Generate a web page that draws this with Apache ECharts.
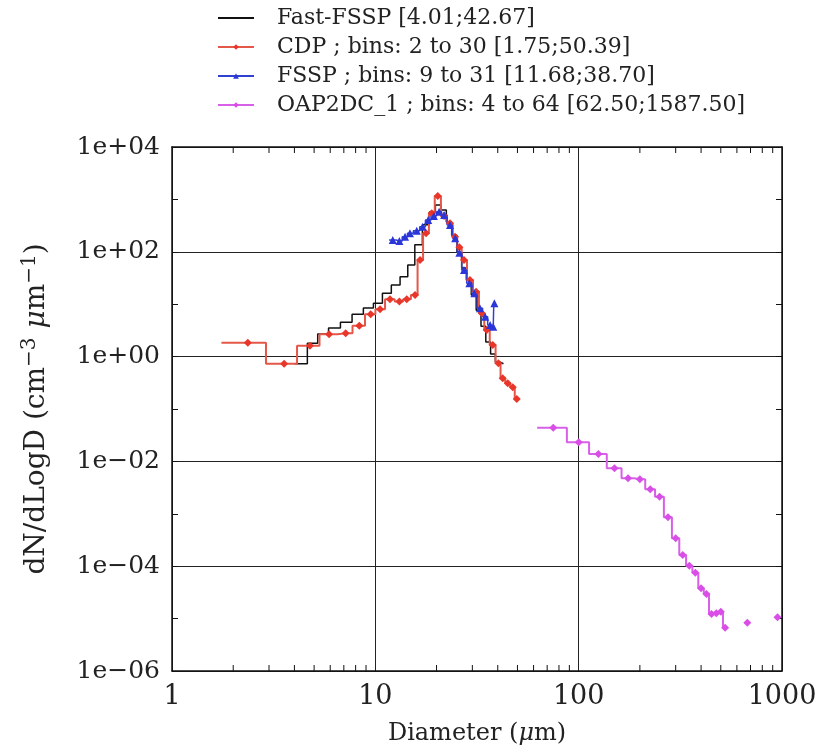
<!DOCTYPE html>
<html><head><meta charset="utf-8">
<script src="https://cdn.jsdelivr.net/npm/echarts@6/dist/echarts.min.js"></script>
<style>html,body{margin:0;padding:0;background:#fff}#c{width:823px;height:753px}</style>
</head><body><div id="c"></div>
<script>
// ---- data ----
const xTickValues = [1, 10, 100, 1000];
const xMinorTickValues = [2,3,4,5,6,7,8,9,20,30,40,50,60,70,80,90,200,300,400,500,600,700,800,900];
const yTickValues = [1e-6, 1e-4, 1e-2, 1, 1e2, 1e4];

const fastName = 'Fast-FSSP [4.01;42.67]';
const fastRange = [4.01, 42.67];
const fastD = [4.35,4.93,5.5,6.3,7.2,8.2,9.3,10.3,11.4,12.6,13.9,15.0,16.3,17.8,19.1,20.4,21.7,23.0,24.5,25.9,27.3,28.8,30.5,32.2,34.0,35.9,37.9,40.0,41.8];
const fastN = [0.73,1.79,2.7,3.5,4.5,6.4,8.5,10.4,16.1,23.3,33.5,56,136,327,572,780,627,370,208,98,49,29,15,7.7,3.8,1.9,1.12,0.79,0.73];

const cdpName = 'CDP ; bins: 2 to 30 [1.75;50.39]';
const cdpRange = [1.75, 50.39];
const cdpD = [2.36,3.56,4.77,5.92,7.15,8.34,9.49,10.55,11.81,13.13,14.27,15.68,16.6,17.76,18.94,20.28,21.78,23.3,24.66,25.9,27.3,29.2,31.3,33.4,35.3,37.8,40.3,42.3,44.8,47.4,49.6];
const cdpN = [1.84,0.73,1.61,2.66,2.79,3.89,6.42,8.0,12.4,11.2,12.4,15.0,69.8,225,543,1161,482,350,194,122,69.8,29.0,17.3,6.7,3.22,1.66,0.745,0.385,0.309,0.26,0.155];

const fsspName = 'FSSP ; bins: 9 to 31 [11.68;38.70]';
const fsspRange = [11.68, 38.70];
const fsspD = [12.18,13.13,14.0,14.8,15.98,17.1,18.2,19.4,20.6,21.8,23.3,24.7,25.9,27.3,29.0,30.7,32.7,34.7,36.7,38.0,38.5];
const fsspN = [168,161,194,225,253,301,405,482,582,503,324,181,96,45,25,16.1,8.35,5.77,4.0,3.72,10.4];

const oapName = 'OAP2DC_1 ; bins: 4 to 64 [62.50;1587.50]';
const oapBinWidth = 25;
const oapD = [75,100,125,150,175,200,225,250,275,300,325,350,375,400,425,450,475,500,525,675,950];
const oapN = [0.044,0.0232,0.01385,0.00738,0.00475,0.00455,0.00294,0.00212,0.000857,0.000341,0.000164,0.000102,0.0000752,0.0000379,0.0000294,0.0000122,0.0000126,0.0000135,0.0000067,0.00000835,0.0000106];

// ---- helpers ----
function geoEdges(D, range) {
  const lo = [], hi = [];
  for (let i = 0; i < D.length; i++) {
    lo.push(i === 0 ? range[0] : Math.sqrt(D[i - 1] * D[i]));
    hi.push(i === D.length - 1 ? range[1] : Math.sqrt(D[i] * D[i + 1]));
  }
  return { lo, hi };
}
function stepData(D, N, lo, hi, withMarkers) {
  const out = [];
  for (let i = 0; i < D.length; i++) {
    if (i > 0 && Math.abs(lo[i] - hi[i - 1]) > 1e-6) out.push({ value: [(hi[i - 1] + lo[i]) / 2, '-'], symbol: 'none' });
    out.push({ value: [lo[i], N[i]], symbol: 'none' });
    if (withMarkers) out.push({ value: [D[i], N[i]] });
    out.push({ value: [hi[i], N[i]], symbol: 'none' });
  }
  return out;
}
const fastE = geoEdges(fastD, fastRange);
const cdpE = geoEdges(cdpD, cdpRange);
const fsspE = geoEdges(fsspD, fsspRange);
const oapE = { lo: oapD.map(d => d - oapBinWidth / 2), hi: oapD.map(d => d + oapBinWidth / 2) };

const FONT = 'DejaVu Serif';
const TXT = '#222';
function expLabel(v) {
  const e = Math.round(Math.log10(v));
  return '1e' + (e < 0 ? '\u2212' : '+') + String(Math.abs(e)).padStart(2, '0');
}

const chart = echarts.init(document.getElementById('c'));
const frameLine = { show: true, lineStyle: { color: '#111', width: 1.5 } };
const minorLine = { color: '#111', width: 1 };
const TICK_LEN = 6;

chart.setOption({
  animation: false,
  backgroundColor: '#fff',
  legend: {
    orient: 'vertical', left: 212, top: 2, itemGap: 7,
    itemWidth: 36, itemHeight: 7,
    textStyle: { fontFamily: FONT, fontSize: 22, color: TXT, padding: [0, 0, 0, 18] },
    data: [{ name: fastName, itemStyle: { opacity: 0 } }, cdpName, fsspName, oapName]
  },
  grid: { left: 172, right: 41, top: 147, bottom: 82, containLabel: false },
  xAxis: [
    {
      type: 'log', logBase: 10, min: 1, max: 1000, position: 'bottom',
      name: 'Diameter ({mu|\u03bc}m)', nameLocation: 'middle', nameGap: 51,
      nameTextStyle: { fontFamily: FONT, fontSize: 24, color: TXT,
        rich: { mu: { fontFamily: FONT, fontSize: 24, fontStyle: 'italic', color: TXT } } },
      axisLine: frameLine,
      axisTick: { show: false },
      splitLine: { show: true, lineStyle: { color: '#222', width: 1 } },
      axisLabel: { fontFamily: FONT, fontSize: 27, color: TXT, margin: 12,
        formatter: v => String(Math.round(v)) }
    },
    {
      type: 'log', logBase: 10, min: 1, max: 1000, position: 'top',
      axisLine: frameLine, axisTick: { show: false },
      splitLine: { show: false }, axisLabel: { show: false }
    }
  ],
  yAxis: [
    {
      type: 'log', logBase: 100, min: 1e-6, max: 1e4, position: 'left',
      name: 'dN/dLogD (cm{sup|\u22123} {mu|\u03bc}m{sup|\u22121})', nameLocation: 'middle', nameGap: 118, nameRotate: 90,
      nameTextStyle: { fontFamily: FONT, fontSize: 28, color: TXT, verticalAlign: 'bottom',
        rich: {
          sup: { fontFamily: FONT, fontSize: 20, color: TXT, verticalAlign: 'top', lineHeight: 34 },
          mu: { fontFamily: FONT, fontSize: 28, fontStyle: 'italic', color: TXT }
        } },
      axisLine: frameLine,
      axisTick: { show: false },
      splitLine: { show: true, lineStyle: { color: '#222', width: 1 } },
      axisLabel: { fontFamily: FONT, fontSize: 25, color: TXT, margin: 12, formatter: expLabel }
    },
    {
      type: 'log', logBase: 10, min: 1e-6, max: 1e4, interval: 1, position: 'left',
      axisLine: { show: false },
      axisTick: { show: true, inside: true, length: TICK_LEN, lineStyle: minorLine },
      splitLine: { show: false }, axisLabel: { show: false }
    },
    {
      type: 'log', logBase: 10, min: 1e-6, max: 1e4, interval: 1, position: 'right',
      axisLine: frameLine,
      axisTick: { show: true, inside: true, length: TICK_LEN, lineStyle: minorLine },
      splitLine: { show: false }, axisLabel: { show: false }
    }
  ],
  series: [
    {
      type: 'custom', name: 'xMinorTicks', xAxisIndex: 0, yAxisIndex: 0, silent: true, clip: false,
      data: xMinorTickValues.map(v => [v, 1]),
      renderItem(params, api) {
        const cs = params.coordSys;
        const p = api.coord([api.value(0), 1]);
        const st = { stroke: '#111', lineWidth: 1 };
        return { type: 'group', children: [
          { type: 'line', shape: { x1: p[0], y1: cs.y + cs.height, x2: p[0], y2: cs.y + cs.height - TICK_LEN }, style: st },
          { type: 'line', shape: { x1: p[0], y1: cs.y, x2: p[0], y2: cs.y + TICK_LEN }, style: st }
        ] };
      }
    },
    {
      name: fastName, type: 'line', xAxisIndex: 0, yAxisIndex: 0,
      data: stepData(fastD, fastN, fastE.lo, fastE.hi, false),
      symbol: 'none', color: '#111', lineStyle: { color: '#111', width: 1.5 }, connectNulls: false
    },
    {
      name: cdpName, type: 'line', xAxisIndex: 0, yAxisIndex: 0,
      data: stepData(cdpD, cdpN, cdpE.lo, cdpE.hi, true),
      symbol: 'diamond', symbolSize: 8, showAllSymbol: true,
      color: '#e8362a', itemStyle: { color: '#e8362a' }, lineStyle: { color: '#e4584a', width: 2 }, connectNulls: false
    },
    {
      name: fsspName, type: 'line', xAxisIndex: 0, yAxisIndex: 0,
      data: stepData(fsspD, fsspN, fsspE.lo, fsspE.hi, true),
      symbol: 'triangle', symbolSize: 8, showAllSymbol: true,
      color: '#2a36d8', itemStyle: { color: '#2a36d8' }, lineStyle: { color: '#3040d0', width: 1.5 }, connectNulls: false
    },
    {
      name: oapName, type: 'line', xAxisIndex: 0, yAxisIndex: 0,
      data: stepData(oapD, oapN, oapE.lo, oapE.hi, true),
      symbol: 'diamond', symbolSize: 8, showAllSymbol: true,
      color: '#d84ee6', itemStyle: { color: '#d84ee6' }, lineStyle: { color: '#d860e8', width: 2 }, connectNulls: false
    }
  ]
});
</script></body></html>
